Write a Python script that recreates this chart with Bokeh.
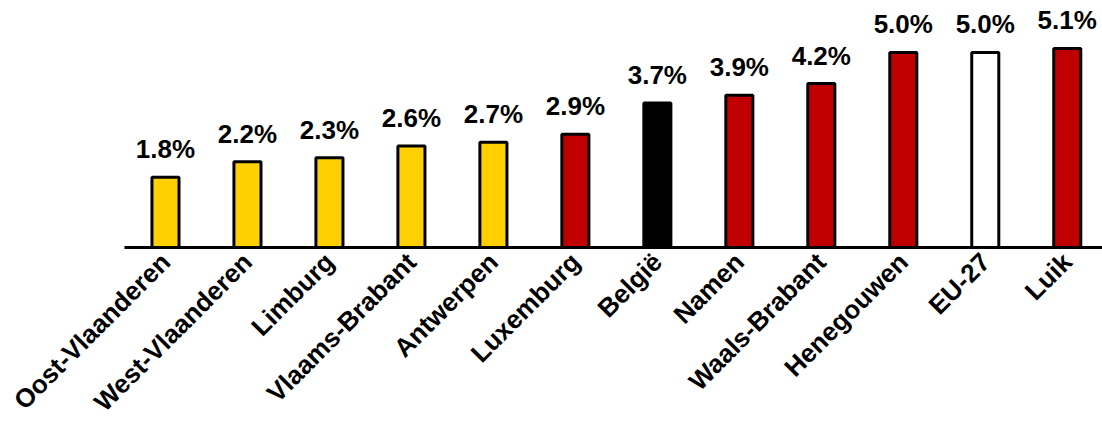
import math
from bokeh.plotting import figure
from bokeh.models import ColumnDataSource, Range1d, FixedTicker
from bokeh.core.properties import value
from bokeh.embed import file_html
from bokeh.resources import INLINE

regions = ["Oost-Vlaanderen", "West-Vlaanderen", "Limburg", "Vlaams-Brabant",
           "Antwerpen", "Luxemburg", "België", "Namen", "Waals-Brabant",
           "Henegouwen", "EU-27", "Luik"]
rates = [1.8, 2.2, 2.3, 2.6, 2.7, 2.9, 3.7, 3.9, 4.2, 5.0, 5.0, 5.1]
labels = ["1.8%", "2.2%", "2.3%", "2.6%", "2.7%", "2.9%", "3.7%", "3.9%",
          "4.2%", "5.0%", "5.0%", "5.1%"]
colors = ["#FFD000"] * 5 + ["#C00000", "#000000", "#C00000", "#C00000",
                            "#C00000", "#FFFFFF", "#C00000"]

xs = list(range(len(regions)))
src = ColumnDataSource(dict(x=xs, top=rates, lab=labels, color=colors))

p = figure(width=1102, height=430, output_backend="svg", toolbar_location=None,
           x_range=Range1d(-0.5, 11.43), y_range=Range1d(0, 6.33),
           min_border_left=124, min_border_right=0, min_border_top=0,
           min_border_bottom=150, y_axis_location=None)
p.outline_line_color = None
p.grid.visible = False
p.background_fill_color = "white"
p.border_fill_color = "white"

p.vbar(x="x", top="top", bottom=0, width=0.33, fill_color="color",
       line_color="black", line_width=3, source=src)

p.text(x="x", y="top", text="lab", source=src, text_align="center",
       text_baseline="alphabetic", y_offset=-28,
       text_font=value("Liberation Sans"), text_font_style="bold",
       text_font_size="26px", text_color="black")

ax = p.xaxis[0]
ax.ticker = FixedTicker(ticks=xs)
ax.major_label_overrides = {i: r for i, r in enumerate(regions)}
ax.major_label_orientation = math.pi / 4
ax.major_label_text_font = "Liberation Sans"
ax.major_label_text_font_style = "bold"
ax.major_label_text_font_size = "26px"
ax.major_label_text_color = "black"
ax.major_tick_line_color = None
ax.minor_tick_line_color = None
ax.major_tick_out = 0
ax.minor_tick_out = 0
ax.major_tick_in = 0
ax.minor_tick_in = 0
ax.major_label_standoff = 10
ax.axis_line_color = "black"
ax.axis_line_width = 3

open("out.html", "w").write(file_html(p, INLINE))
